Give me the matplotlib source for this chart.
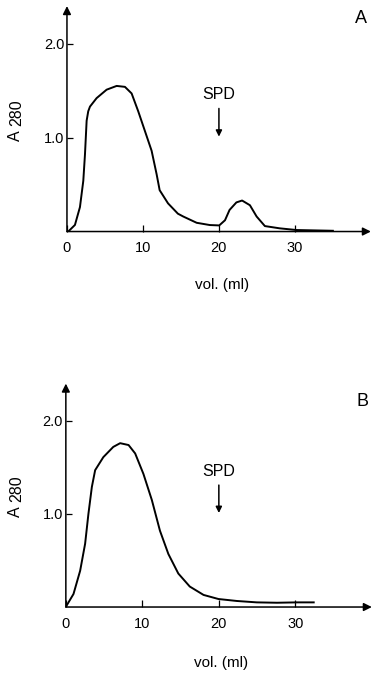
import matplotlib
matplotlib.use("Agg")
import matplotlib.pyplot as plt
from matplotlib.transforms import blended_transform_factory

plt.rcParams['font.family'] = ['Liberation Sans', 'DejaVu Sans']

# panel A: elution profile (vol in ml, A280)
vol_a = [0, 0.17, 1.05, 1.71, 2.15, 2.37, 2.59, 2.8, 3.03, 3.9, 5.22, 6.54, 7.63, 8.51,
         9.38, 10.26, 11.14, 11.8, 12.2, 13.3, 14.6, 15.3, 17.07, 18.8, 20.04, 20.8,
         21.4, 22.3, 23.05, 24.08, 24.96, 26.05, 28.0, 30.2, 35.0]
abs_a = [0, 0.0, 0.07, 0.26, 0.54, 0.82, 1.18, 1.28, 1.33, 1.42, 1.51, 1.55, 1.54, 1.47,
         1.28, 1.07, 0.86, 0.61, 0.44, 0.30, 0.19, 0.16, 0.093, 0.069, 0.065, 0.12,
         0.23, 0.31, 0.33, 0.28, 0.16, 0.058, 0.034, 0.016, 0.008]

# panel B
vol_b = [0, 0.13, 1.0, 1.87, 2.52, 2.95, 3.4, 3.83, 4.9, 6.2, 7.1, 8.2, 9.06, 10.14,
         11.24, 12.3, 13.4, 14.7, 16.2, 18.0, 19.95, 22.35, 24.96, 27.6, 30.2, 32.4]
abs_b = [0, 0.02, 0.14, 0.39, 0.68, 1.0, 1.29, 1.47, 1.61, 1.72, 1.76, 1.74, 1.65, 1.43,
         1.15, 0.82, 0.57, 0.36, 0.22, 0.13, 0.086, 0.065, 0.05, 0.046, 0.05, 0.05]

x_ticks = [0, 10, 20, 30]
y_ticks = [1.0, 2.0]
spd_vol = 20


def draw_panel(ax, vol, absorb, letter, letter_pos, xlab_pos, ylab_x):
    ax.plot(vol, absorb, color='black', lw=1.4, solid_joinstyle='round')
    ax.set_xlim(0, 40)
    ax.set_ylim(0, 2.4)
    for s in ax.spines.values():
        s.set_visible(False)
    # axes drawn as arrows
    arrow = dict(arrowstyle='-|>', lw=1.1, color='black', mutation_scale=12,
                 shrinkA=0, shrinkB=0)
    ax.annotate('', xy=(1, 0), xytext=(0, 0), xycoords='axes fraction',
                arrowprops=arrow, annotation_clip=False)
    ax.annotate('', xy=(0, 1), xytext=(0, 0), xycoords='axes fraction',
                arrowprops=arrow, annotation_clip=False)
    ax.set_xticks(x_ticks)
    ax.set_xticklabels([str(t) for t in x_ticks])
    ax.set_yticks(y_ticks)
    ax.set_yticklabels(['%.1f' % t for t in y_ticks])
    ax.tick_params(axis='x', direction='in', length=5, width=0.9, pad=7, labelsize=10.5)
    ax.tick_params(axis='y', direction='in', length=4, width=0.9, pad=2, labelsize=10.5)

    # y label A280 with the number set lower like a subscript
    tr = blended_transform_factory(ax.transAxes, ax.transData)
    ax.text(ylab_x, 1.02, 'A', transform=tr, rotation=90, ha='center', va='center',
            fontsize=11.5)
    ax.text(ylab_x + 0.004, 1.27, '280', transform=tr, rotation=90, ha='center',
            va='center', fontsize=11.5)

    ax.text(xlab_pos[0], xlab_pos[1], 'vol. (ml)', transform=ax.transAxes,
            ha='center', va='center', fontsize=11)
    ax.text(letter_pos[0], letter_pos[1], letter, transform=ax.transAxes,
            ha='center', va='center', fontsize=13)
    ax.text(spd_vol, 1.46, 'SPD', ha='center', va='center', fontsize=11.5)
    ax.annotate('', xy=(spd_vol, 1.01), xytext=(spd_vol, 1.31),
                arrowprops=dict(arrowstyle='-|>', lw=1.1, color='black',
                                mutation_scale=9, shrinkA=0, shrinkB=0))


fig = plt.figure(figsize=(3.72, 6.75), dpi=100)
ax_a = fig.add_axes([0.180, 0.657, 0.817, 0.334])
ax_b = fig.add_axes([0.177, 0.1007, 0.8226, 0.331])

draw_panel(ax_a, vol_a, abs_a, 'A', (0.969, 0.945), (0.51, -0.236), -0.168)
draw_panel(ax_b, vol_b, abs_b, 'B', (0.968, 0.92), (0.508, -0.251), -0.165)

fig.savefig('out.png', dpi=100)
